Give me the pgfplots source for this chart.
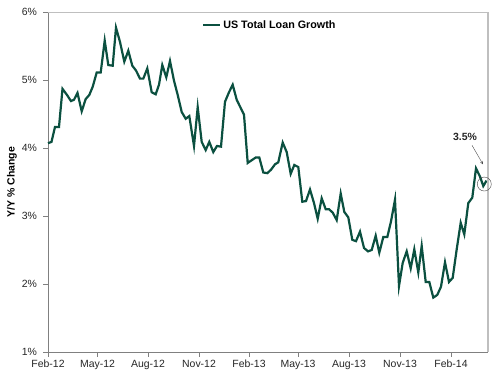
\documentclass[border=0pt]{standalone}
\usepackage{pgfplots}
\pgfplotsset{compat=1.18}
\usepackage{fontspec}
\setmainfont{Liberation Sans}
\definecolor{loan}{HTML}{0B5040}
\definecolor{axgray}{HTML}{808080}
\definecolor{boxgray}{HTML}{BFBFBF}
\begin{document}
\begin{tikzpicture}
\useasboundingbox (-48bp,-28bp) rectangle (452bp,352bp);
\begin{axis}[
  at={(0,0)}, anchor=south west,
  scale only axis, width=440bp, height=340bp,
  xmin=48, xmax=488, ymin=1, ymax=6,
  axis lines*=left,
  axis line style={axgray, line width=0.8bp},
  tick style={axgray, line width=0.8bp},
  tick align=outside,
  major tick length=4.5bp,
  xtick={48,97.5,148,199,249,298,349,400,451},
  xticklabels={Feb-12,May-12,Aug-12,Nov-12,Feb-13,May-13,Aug-13,Nov-13,Feb-14},
  ytick={1,2,3,4,5,6},
  yticklabels={1\%,2\%,3\%,4\%,5\%,6\%},
  ticklabel style={font=\fontsize{10.5}{12}\selectfont, text=black!85},
  yticklabel style={xshift=-3bp},
  ylabel={\bfseries Y/Y \% Change},
  ylabel style={font=\fontsize{10.5}{12}\selectfont, at={(axis description cs:-0.082,0.5)}, anchor=center},
  legend style={draw=none, fill=none, at={(rel axis cs:0.343,0.962)}, anchor=west,
    font=\fontsize{10.8}{12}\selectfont\bfseries, legend cell align=left},
  clip=false,
]
\addplot[loan, line width=2.2bp] coordinates {
(48,4.07) (51.5,4.09) (55,4.31) (59,4.31) (62.5,4.87) (67,4.78) (71,4.69) (74,4.71)
(77.5,4.81) (81.7,4.54) (85.7,4.72) (89.3,4.78) (92.7,4.90) (96.7,5.11) (100.7,5.11)
(104.7,5.58) (108.3,5.22) (112.7,5.21) (116,5.77) (120,5.56) (124.3,5.27) (128.3,5.43)
(132.3,5.21) (136,5.14) (140,5.02) (143.3,5.02) (147.3,5.17) (151.7,4.82) (155.7,4.79)
(159,4.93) (162.3,5.22) (166.3,5.04) (170,5.28) (174,4.99) (177.7,4.78) (181.7,4.53)
(185.7,4.43) (189.3,4.47) (194,4.03) (197.7,4.60) (201.7,4.09) (205.7,3.97) (209.3,4.09)
(213.3,3.94) (217,4.03) (221,4.02) (225,4.68) (229,4.82) (232.7,4.93) (236.7,4.71)
(240,4.61) (244,4.49) (247.7,3.78) (251.7,3.82) (255.7,3.86) (259.3,3.86) (263.3,3.64)
(267.3,3.63) (271,3.68) (275,3.76) (278.3,3.79) (282.7,4.08) (286.7,3.94) (290.7,3.62)
(294.3,3.75) (298.3,3.72) (302.3,3.21) (306,3.22) (310,3.39) (314,3.19) (317.7,2.96)
(321.7,3.26) (325.7,3.10) (329,3.10) (332.7,3.05) (336.7,2.94) (340.7,3.33) (344.3,3.06)
(348.3,2.98) (352.3,2.65) (356,2.63) (360,2.77) (364,2.53) (368,2.48) (371.7,2.50)
(375.7,2.71) (379.3,2.46) (383.3,2.69) (387.3,2.69) (391,2.92) (395,3.24) (399,1.97)
(402.7,2.31) (406.7,2.48) (410.7,2.23) (414.3,2.51) (418.3,2.17) (421.7,2.56) (425.7,2.03)
(429.3,2.03) (433.3,1.80) (437.3,1.84) (441,1.96) (445,2.32) (449,2.03) (452.7,2.09)
(456.7,2.51) (460.7,2.90) (464.3,2.73) (468.3,3.19) (472.3,3.27) (476,3.70) (480,3.58)
(483.3,3.44) (486.5,3.52)
};
\addlegendentry{US Total Loan Growth}
\draw[boxgray, line width=0.8bp] (rel axis cs:0,1) -- (rel axis cs:1,1);
\draw[boxgray, line width=1.6bp] (rel axis cs:1,1) -- (rel axis cs:1,0);
\node[font=\fontsize{10.5}{12}\selectfont\bfseries, text=black!85] at (axis cs:465,4.16) {3.5\%};
\draw[-stealth, black!70, line width=0.4bp] (axis cs:472,4.04) -- (axis cs:483,3.76);
\draw[black!75, line width=0.4bp] (axis cs:484.3,3.47) circle [radius=7bp];
\end{axis}
\end{tikzpicture}
\end{document}
